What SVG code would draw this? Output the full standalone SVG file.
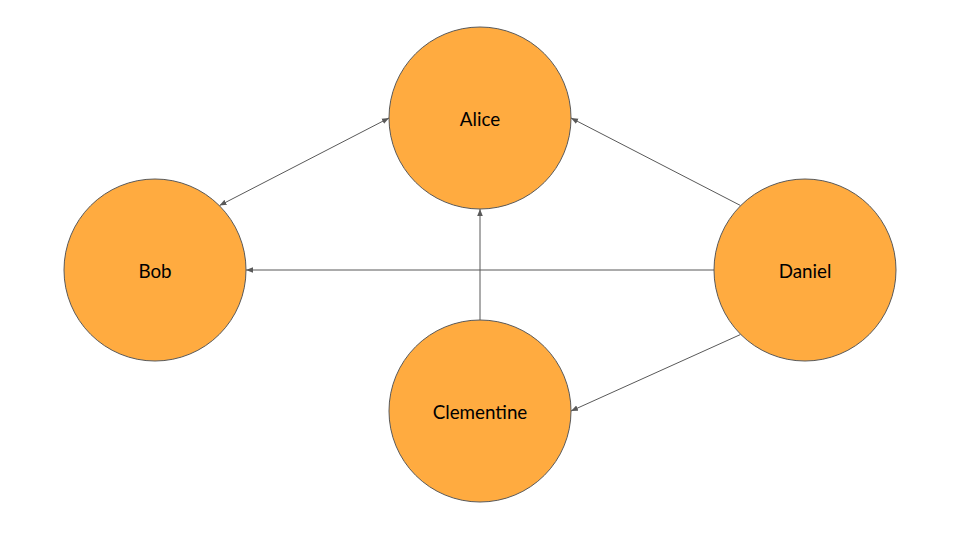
<svg xmlns="http://www.w3.org/2000/svg" width="960" height="540" viewBox="0 0 960 540">
<style>
.node circle{fill:#FFAB40;stroke:#595959;stroke-width:1}
.node text{font-family:Lato,"Liberation Sans",sans-serif;font-size:18.8px;fill:#000;text-anchor:middle;dominant-baseline:central}
.edge{stroke:#595959;stroke-width:1;fill:none}
</style>
<defs>
<marker id="ah" viewBox="0 0 10 10" refX="10" refY="5" markerWidth="7" markerHeight="7" orient="auto-start-reverse" markerUnits="userSpaceOnUse">
<path d="M0,1 L10,5 L0,9 Z" fill="#595959"/>
</marker>
</defs>
<rect width="960" height="540" fill="#fff"/>
<g id="nodes">
<g id="alice" class="node"><circle cx="480" cy="118" r="91"/><text x="480" y="118">Alice</text></g>
<g id="bob" class="node"><circle cx="155" cy="270" r="91"/><text x="155" y="270">Bob</text></g>
<g id="daniel" class="node"><circle cx="805" cy="270" r="91"/><text x="805" y="270">Daniel</text></g>
<g id="clementine" class="node"><circle cx="480" cy="411" r="91"/><text x="480" y="411">Clementine</text></g>
</g>
<g id="connectors">
<line class="edge" x1="219.5" y1="205.5" x2="389" y2="118" marker-start="url(#ah)" marker-end="url(#ah)"/>
<line class="edge" x1="740.5" y1="205.5" x2="571" y2="118" marker-end="url(#ah)"/>
<line class="edge" x1="714" y1="270" x2="246" y2="270" marker-end="url(#ah)"/>
<line class="edge" x1="480" y1="320" x2="480" y2="209" marker-end="url(#ah)"/>
<line class="edge" x1="740.5" y1="334.5" x2="571" y2="411" marker-end="url(#ah)"/>
</g>
</svg>
